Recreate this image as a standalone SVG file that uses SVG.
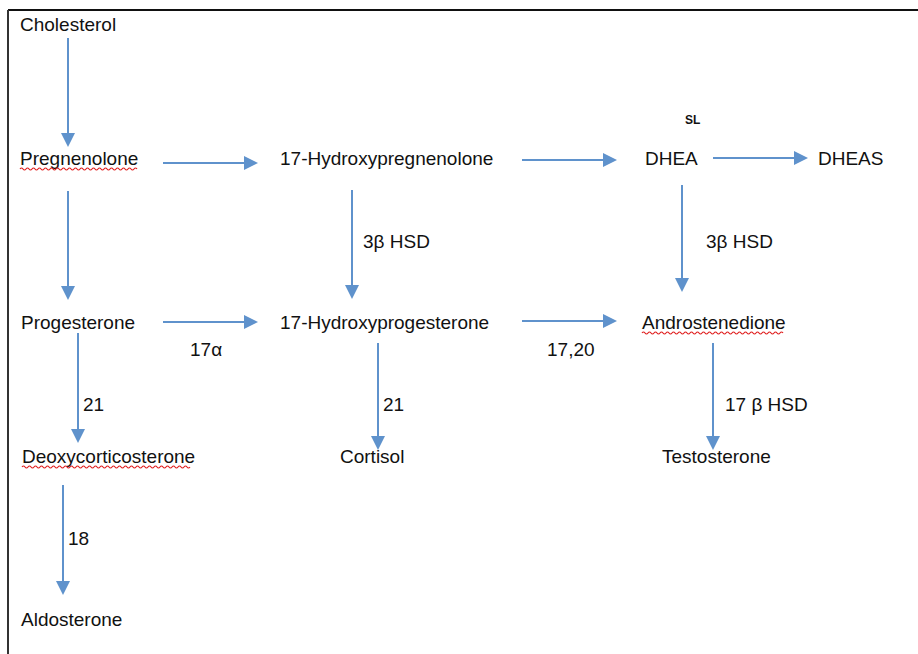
<svg xmlns="http://www.w3.org/2000/svg" width="918" height="654" viewBox="0 0 918 654">
<style>
  text { font-family: "Liberation Sans", Arial, sans-serif; font-size: 19px; fill: #111; }
  .small { font-size: 12px; font-weight: bold; }
  .conn line { stroke: #5f92cc; stroke-width: 2; marker-end: url(#ah); }
  .squig { fill: none; stroke: #e02020; stroke-width: 1.2; }
</style>
<defs>
  <marker id="ah" markerUnits="userSpaceOnUse" markerWidth="16" markerHeight="15" refX="2" refY="7" orient="auto">
    <path d="M0,0 L14,7 L0,14 z" fill="#5f92cc"/>
  </marker>
</defs>
<rect width="918" height="654" fill="#fff"/>
<g id="frame">
  <line x1="8" y1="10" x2="918" y2="10" stroke="#111" stroke-width="2"/>
  <line x1="8" y1="10" x2="8" y2="654" stroke="#333" stroke-width="2"/>
</g>
<g class="conn" id="connectors">
  <line x1="68" y1="38" x2="68" y2="135"/>
  <line x1="163" y1="163" x2="246" y2="163"/>
  <line x1="522" y1="160" x2="605" y2="160"/>
  <line x1="713" y1="158" x2="796" y2="158"/>
  <line x1="68" y1="191" x2="68" y2="288"/>
  <line x1="352" y1="190" x2="352" y2="287"/>
  <line x1="682" y1="185" x2="682" y2="280"/>
  <line x1="163" y1="322" x2="246" y2="322"/>
  <line x1="522" y1="321" x2="605" y2="321"/>
  <line x1="78" y1="333" x2="78" y2="431"/>
  <line x1="378" y1="343" x2="378" y2="438"/>
  <line x1="713" y1="343" x2="713" y2="438"/>
  <line x1="63" y1="485" x2="63" y2="583"/>
  <text x="190" y="356">17α</text>
  <text x="547" y="356">17,20</text>
  <text x="363" y="248">3β HSD</text>
  <text x="706" y="248">3β HSD</text>
  <text x="83" y="411">21</text>
  <text x="383" y="411">21</text>
  <text x="725" y="411">17 β HSD</text>
  <text x="68" y="545">18</text>
  <text class="small" x="685" y="124">SL</text>
</g>
<g id="cholesterol"><text x="20" y="31">Cholesterol</text></g>
<g id="pregnenolone"><text x="20" y="165">Pregnenolone</text>
  <path class="squig" d="M20,169 q1.5,-2 3,0 t3,0 t3,0 t3,0 t3,0 t3,0 t3,0 t3,0 t3,0 t3,0 t3,0 t3,0 t3,0 t3,0 t3,0 t3,0 t3,0 t3,0 t3,0 t3,0 t3,0 t3,0 t3,0 t3,0 t3,0 t3,0 t3,0 t3,0 t3,0 t3,0 t3,0 t3,0 t3,0 t3,0 t3,0 t3,0 t3,0 t3,0 t3,0"/></g>
<g id="hydroxypregnenolone"><text x="280" y="165">17-Hydroxypregnenolone</text></g>
<g id="dhea"><text x="645" y="165">DHEA</text></g>
<g id="dheas"><text x="818" y="165">DHEAS</text></g>
<g id="progesterone"><text x="21" y="329">Progesterone</text></g>
<g id="hydroxyprogesterone"><text x="280" y="329">17-Hydroxyprogesterone</text></g>
<g id="androstenedione"><text x="642" y="329">Androstenedione</text>
  <path class="squig" d="M642,333 q1.5,-2 3,0 t3,0 t3,0 t3,0 t3,0 t3,0 t3,0 t3,0 t3,0 t3,0 t3,0 t3,0 t3,0 t3,0 t3,0 t3,0 t3,0 t3,0 t3,0 t3,0 t3,0 t3,0 t3,0 t3,0 t3,0 t3,0 t3,0 t3,0 t3,0 t3,0 t3,0 t3,0 t3,0 t3,0 t3,0 t3,0 t3,0 t3,0 t3,0 t3,0 t3,0 t3,0 t3,0 t3,0 t3,0 t3,0 t3,0"/></g>
<g id="deoxycorticosterone"><text x="22" y="463">Deoxycorticosterone</text>
  <path class="squig" d="M22,467 q1.5,-2 3,0 t3,0 t3,0 t3,0 t3,0 t3,0 t3,0 t3,0 t3,0 t3,0 t3,0 t3,0 t3,0 t3,0 t3,0 t3,0 t3,0 t3,0 t3,0 t3,0 t3,0 t3,0 t3,0 t3,0 t3,0 t3,0 t3,0 t3,0 t3,0 t3,0 t3,0 t3,0 t3,0 t3,0 t3,0 t3,0 t3,0 t3,0 t3,0 t3,0 t3,0 t3,0 t3,0 t3,0 t3,0 t3,0 t3,0 t3,0 t3,0 t3,0 t3,0 t3,0 t3,0 t3,0 t3,0 t3,0"/></g>
<g id="cortisol"><text x="340" y="463">Cortisol</text></g>
<g id="testosterone"><text x="662" y="463">Testosterone</text></g>
<g id="aldosterone"><text x="21" y="626">Aldosterone</text></g>
</svg>
